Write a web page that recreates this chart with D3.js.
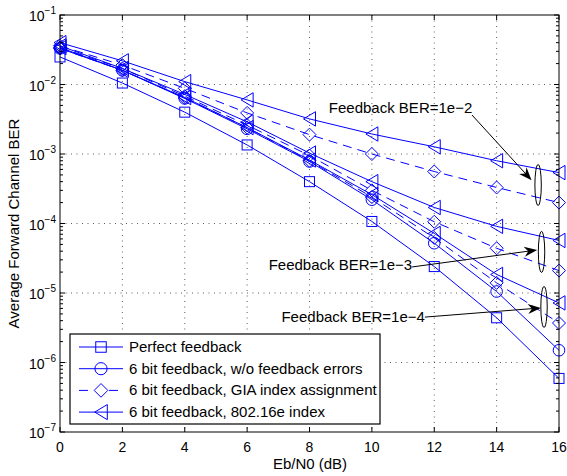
<!DOCTYPE html>
<meta charset="utf-8">
<style>
body { margin: 0; background: #fff; }
text { font-family: "Liberation Sans", Arial, sans-serif; fill: #000; }
.series { fill: none; stroke: #0000ff; stroke-width: 1; }
.mark { fill: none; stroke: #0000ff; stroke-width: 1; }
.grid { stroke: #333; stroke-width: 0.8; stroke-dasharray: 1,4.5; }
</style>
<svg width="567" height="476"></svg>
<script src="https://d3js.org/d3.v7.min.js"></script>
<script>

// Eb/N0 (dB) points
var ebn0 = [0, 2, 4, 6, 8, 10, 12, 14, 16];

// BER curves
var perfect  = [0.0249, 0.0105, 0.0040, 0.00135, 4.0e-4, 1.07e-4, 2.4e-5, 4.4e-6, 5.9e-7];
var noErr    = [0.033, 0.0160, 0.0063, 0.0023, 7.8e-4, 2.2e-4, 5.2e-5, 1.05e-5, 1.5e-6];
var gia1e2   = [0.036, 0.0190, 0.0088, 0.0039, 1.9e-3, 1.0e-3, 5.6e-4, 3.3e-4, 2.0e-4];
var gia1e3   = [0.034, 0.0170, 0.0068, 0.0026, 9.5e-4, 3.0e-4, 1.06e-4, 4.4e-5, 2.1e-5];
var gia1e4   = [0.033, 0.0160, 0.0064, 0.0024, 8.0e-4, 2.4e-4, 6.2e-5, 1.4e-5, 3.7e-6];
var ieee1e2  = [0.040, 0.0219, 0.0110, 0.0060, 3.2e-3, 1.94e-3, 1.27e-3, 8.0e-4, 5.4e-4];
var ieee1e3  = [0.036, 0.0170, 0.0072, 0.0029, 1.03e-3, 4.0e-4, 1.7e-4, 9.1e-5, 5.7e-5];
var ieee1e4  = [0.034, 0.0160, 0.0065, 0.0024, 8.2e-4, 2.6e-4, 7.2e-5, 1.85e-5, 7.2e-6];

var legendLabels = [
  "Perfect feedback",
  "6 bit feedback, w/o feedback errors",
  "6 bit feedback, GIA index assignment",
  "6 bit feedback, 802.16e index"
];
var xTicks = [0, 2, 4, 6, 8, 10, 12, 14, 16];
var yExps = [-7, -6, -5, -4, -3, -2, -1];

// annotation anchors in data units
var notes = [
  {label: "Feedback BER=1e\u22122", tx: 8.62, ty: 4.6e-3, anchor: "start",
   ax0: 13.21, ay0: 3.64e-3, ax1: 15.12, ay1: 4.2e-4, ex: 15.33, ey: 3.58e-4},
  {label: "Feedback BER=1e\u22123", tx: 11.29, ty: 2.5e-5, anchor: "end",
   ax0: 11.29, ay0: 2.37e-5, ax1: 15.30, ay1: 4.16e-5, ex: 15.44, ey: 3.9e-5},
  {label: "Feedback BER=1e\u22124", tx: 11.70, ty: 4.5e-6, anchor: "end",
   ax0: 11.70, ay0: 4.5e-6, ax1: 15.42, ay1: 6.1e-6, ex: 15.52, ey: 6.3e-6}
];

var svg = d3.select("svg");
var mLeft = 60, mRight = 559, mTop = 15, mBottom = 432;

var x = d3.scaleLinear().domain([0, 16]).range([mLeft, mRight]);
var y = d3.scaleLog().domain([1e-7, 1e-1]).range([mBottom, mTop]);

// grid
svg.append("g").selectAll("line").data(xTicks.slice(1, -1)).enter().append("line")
  .attr("class", "grid")
  .attr("x1", function(d) { return x(d); }).attr("x2", function(d) { return x(d); })
  .attr("y1", mTop).attr("y2", mBottom);
svg.append("g").selectAll("line").data(yExps.slice(1, -1)).enter().append("line")
  .attr("class", "grid")
  .attr("y1", function(d) { return y(Math.pow(10, d)); }).attr("y2", function(d) { return y(Math.pow(10, d)); })
  .attr("x1", mLeft).attr("x2", mRight);

// markers
function drawMarker(g, type, cx, cy, s) {
  s = s || 1;
  if (type == "square") {
    g.append("rect").attr("class", "mark")
      .attr("x", cx - 5 * s).attr("y", cy - 5 * s).attr("width", 10 * s).attr("height", 10 * s);
  } else if (type == "circle") {
    g.append("circle").attr("class", "mark").attr("cx", cx).attr("cy", cy).attr("r", 5.8 * s);
  } else if (type == "diamond") {
    var h = 6.5 * s;
    g.append("path").attr("class", "mark")
      .attr("d", "M" + cx + "," + (cy - h) + "L" + (cx + h) + "," + cy + "L" + cx + "," + (cy + h) + "L" + (cx - h) + "," + cy + "Z");
  } else if (type == "triangle") {
    var w = 6 * s, t = 7.2 * s;
    g.append("path").attr("class", "mark")
      .attr("d", "M" + (cx - w) + "," + cy + "L" + (cx + w) + "," + (cy - t) + "L" + (cx + w) + "," + (cy + t) + "Z");
  }
}

var series = [
  {v: perfect, m: "square", dash: null},
  {v: noErr, m: "circle", dash: null},
  {v: gia1e2, m: "diamond", dash: "9,6"},
  {v: gia1e3, m: "diamond", dash: "9,6"},
  {v: gia1e4, m: "diamond", dash: "9,6"},
  {v: ieee1e2, m: "triangle", dash: null},
  {v: ieee1e3, m: "triangle", dash: null},
  {v: ieee1e4, m: "triangle", dash: null}
];

var line = d3.line()
  .x(function(d, i) { return x(ebn0[i]); })
  .y(function(d) { return y(d); });

var plot = svg.append("g");
series.forEach(function(s) {
  plot.append("path").attr("class", "series")
    .attr("d", line(s.v))
    .attr("stroke-dasharray", s.dash);
});
series.forEach(function(s) {
  var g = plot.append("g");
  s.v.forEach(function(d, i) { drawMarker(g, s.m, x(ebn0[i]), y(d)); });
});

// axes frame and ticks
var axes = svg.append("g").attr("stroke", "#000").attr("stroke-width", 1);
xTicks.forEach(function(d) {
  axes.append("line").attr("x1", x(d)).attr("x2", x(d)).attr("y1", mBottom).attr("y2", mBottom - 5);
  axes.append("line").attr("x1", x(d)).attr("x2", x(d)).attr("y1", mTop).attr("y2", mTop + 5);
});
yExps.forEach(function(e) {
  var p = Math.pow(10, e);
  axes.append("line").attr("x1", mLeft).attr("x2", mLeft + 5).attr("y1", y(p)).attr("y2", y(p));
  axes.append("line").attr("x1", mRight).attr("x2", mRight - 5).attr("y1", y(p)).attr("y2", y(p));
  if (e < -1) {
    for (var k = 2; k <= 9; k++) {
      var v = k * p;
      axes.append("line").attr("x1", mLeft).attr("x2", mLeft + 3).attr("y1", y(v)).attr("y2", y(v));
      axes.append("line").attr("x1", mRight).attr("x2", mRight - 3).attr("y1", y(v)).attr("y2", y(v));
    }
  }
});
axes.append("rect").attr("x", mLeft).attr("y", mTop).attr("width", mRight - mLeft).attr("height", mBottom - mTop)
  .attr("fill", "none");

// tick labels
svg.append("g").selectAll("text").data(xTicks).enter().append("text")
  .attr("x", function(d) { return x(d); }).attr("y", 452)
  .attr("text-anchor", "middle").attr("font-size", 14)
  .text(function(d) { return d; });

var yl = svg.append("g").selectAll("text").data(yExps).enter().append("text")
  .attr("x", 56).attr("y", function(d) { return y(Math.pow(10, d)) + 6; })
  .attr("text-anchor", "end").attr("font-size", 14);
yl.append("tspan").text("10");
yl.append("tspan").attr("dy", -7).attr("font-size", 10).text(function(d) { return "\u2212" + (-d); });

// axis titles
svg.append("text").attr("x", 310).attr("y", 469).attr("text-anchor", "middle")
  .attr("font-size", 15).text("Eb/N0 (dB)");
svg.append("text").attr("transform", "translate(19," + ((mTop + mBottom) / 2) + ") rotate(-90)")
  .attr("text-anchor", "middle").attr("font-size", 15).text("Average Forward Channel BER");

// legend
var lg = svg.append("g");
lg.append("rect").attr("x", 70).attr("y", 334).attr("width", 310).attr("height", 90)
  .attr("fill", "#fff").attr("stroke", "#000").attr("stroke-width", 1.2);
var legendMarks = ["square", "circle", "diamond", "triangle"];
var legendDash = [null, null, "9,6", null];
legendLabels.forEach(function(lab, i) {
  var cy = 347 + i * 21.7;
  lg.append("line").attr("class", "series").attr("x1", 79).attr("x2", 123)
    .attr("y1", cy).attr("y2", cy).attr("stroke-dasharray", legendDash[i]);
  if (legendDash[i]) {
    lg.append("rect").attr("x", 93).attr("y", cy - 3).attr("width", 16).attr("height", 6).attr("fill", "#fff");
  }
  drawMarker(lg, legendMarks[i], 101, cy, 1.05);
  lg.append("text").attr("x", 129).attr("y", cy + 5).attr("font-size", 15).text(lab);
});

// annotations
var an = svg.append("g");
notes.forEach(function(n) {
  an.append("text").attr("x", x(n.tx)).attr("y", y(n.ty) + 5)
    .attr("text-anchor", n.anchor).attr("font-size", 15).text(n.label);
  var x0 = x(n.ax0), y0 = y(n.ay0), x1 = x(n.ax1), y1 = y(n.ay1);
  var ang = Math.atan2(y1 - y0, x1 - x0);
  an.append("line").attr("x1", x0).attr("y1", y0)
    .attr("x2", x1 - 6 * Math.cos(ang)).attr("y2", y1 - 6 * Math.sin(ang))
    .attr("stroke", "#000").attr("stroke-width", 1);
  an.append("path").attr("d", "M0,0L-13,-5L-9,0L-13,5Z").attr("fill", "#000")
    .attr("transform", "translate(" + x1 + "," + y1 + ") rotate(" + (ang * 180 / Math.PI) + ")");
  an.append("ellipse").attr("cx", x(n.ex)).attr("cy", y(n.ey)).attr("rx", 3.2).attr("ry", 20.5)
    .attr("fill", "none").attr("stroke", "#000").attr("stroke-width", 1);
});

</script>
